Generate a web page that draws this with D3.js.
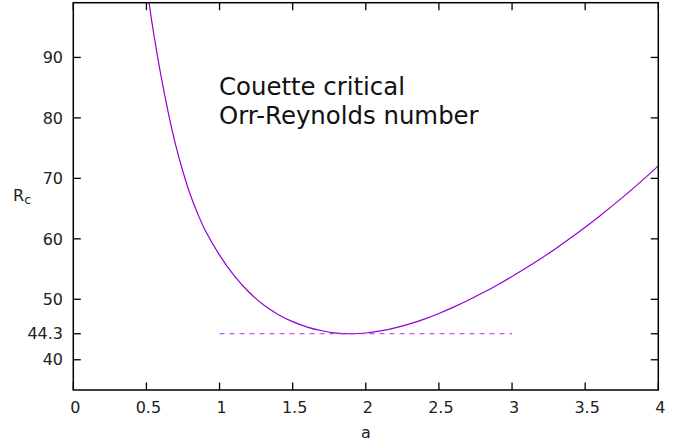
<!DOCTYPE html>
<html lang="en">
<head>
    <meta charset="UTF-8">
    <title>Couette critical Orr-Reynolds number</title>
    <style>
        body { margin: 0; background: #fff; }
        svg { display: block; font-family: "DejaVu Sans", sans-serif; }
        .frame { fill: none; stroke: #000; stroke-width: 1.5px; }
        .tick-line { stroke: #000; stroke-width: 1.3px; }
        .tick-label { font-size: 16px; fill: #222; }
        .curve { fill: none; stroke: #9400d3; stroke-width: 1.2px; }
        .minline { stroke: #b030e8; stroke-width: 1.2px; stroke-dasharray: 5 5; }
    </style>
</head>
<body>
<svg id="chart" width="690" height="447"></svg>
<script src="https://d3js.org/d3.v7.min.js"></script>
<script>
// wave number a and critical Reynolds number
const aValues = [0.50, 0.52, 0.55, 0.60, 0.65, 0.70, 0.75, 0.80, 0.85, 0.90,
    1.0, 1.1, 1.2, 1.3, 1.4, 1.5, 1.6, 1.7, 1.8, 1.9,
    2.0, 2.1, 2.2, 2.3, 2.4, 2.5, 2.6, 2.7, 2.8, 2.9,
    3.0, 3.1, 3.2, 3.3, 3.4, 3.5, 3.6, 3.7, 3.8, 3.9, 4.0];
const rValues = [102.4, 98.7, 93.9, 86.9, 80.8, 75.5, 71.1, 67.3, 64.2, 61.5,
    57.3, 53.9, 51.2, 49.1, 47.5, 46.3, 45.4, 44.8, 44.42, 44.3,
    44.43, 44.77, 45.27, 45.93, 46.73, 47.66, 48.70, 49.84, 51.07, 52.38,
    53.77, 55.24, 56.79, 58.42, 60.13, 61.92, 63.79, 65.74, 67.77, 69.88, 72.07];

const minValue = 44.3;
const minRange = [1, 3];

const xTicks = [0, 0.5, 1, 1.5, 2, 2.5, 3, 3.5, 4];
const yTicks = [40, 44.3, 50, 60, 70, 80, 90];

const titleLines = ['Couette critical', 'Orr-Reynolds number'];

const svg = d3.select('#chart');
const plotLeft = 73.3, plotRight = 658.3, plotTop = 2.7, plotBottom = 390;

const x = d3.scaleLinear().domain([0, 4]).range([plotLeft, plotRight]);
const y = d3.scaleLinear().domain([35, 99.05]).range([plotBottom, plotTop]);

svg.append('clipPath').attr('id', 'clip')
    .append('rect')
    .attr('x', plotLeft).attr('y', plotTop)
    .attr('width', plotRight - plotLeft).attr('height', plotBottom - plotTop);

const points = aValues.map((a, i) => ({a: a, r: rValues[i]}));

const line = d3.line()
    .x(d => x(d.a))
    .y(d => y(d.r))
    .curve(d3.curveCatmullRom);

svg.append('path')
    .datum(points)
    .attr('class', 'curve')
    .attr('clip-path', 'url(#clip)')
    .attr('d', line);

svg.append('line')
    .attr('class', 'minline')
    .attr('x1', x(minRange[0])).attr('x2', x(minRange[1]))
    .attr('y1', y(minValue)).attr('y2', y(minValue));

// ticks, drawn inward on all four sides
const tickLen = 7.5;
const g = svg.append('g');

xTicks.forEach(t => {
    g.append('line').attr('class', 'tick-line')
        .attr('x1', x(t)).attr('x2', x(t))
        .attr('y1', plotBottom).attr('y2', plotBottom - tickLen);
    g.append('line').attr('class', 'tick-line')
        .attr('x1', x(t)).attr('x2', x(t))
        .attr('y1', plotTop).attr('y2', plotTop + tickLen);
    g.append('text').attr('class', 'tick-label')
        .attr('x', x(t) + 2).attr('y', 413)
        .attr('text-anchor', 'middle')
        .text(t);
});

yTicks.forEach(t => {
    g.append('line').attr('class', 'tick-line')
        .attr('x1', plotLeft).attr('x2', plotLeft + tickLen)
        .attr('y1', y(t)).attr('y2', y(t));
    g.append('line').attr('class', 'tick-line')
        .attr('x1', plotRight).attr('x2', plotRight - tickLen)
        .attr('y1', y(t)).attr('y2', y(t));
    g.append('text').attr('class', 'tick-label')
        .attr('x', 63).attr('y', y(t) + 5.7)
        .attr('text-anchor', 'end')
        .text(t);
});

svg.append('rect').attr('class', 'frame')
    .attr('x', plotLeft).attr('y', plotTop)
    .attr('width', plotRight - plotLeft).attr('height', plotBottom - plotTop);

// axis labels
svg.append('text').attr('class', 'tick-label')
    .attr('x', 366).attr('y', 438)
    .attr('text-anchor', 'middle')
    .text('a');

const rc = svg.append('text').attr('class', 'tick-label')
    .attr('x', 13).attr('y', 201);
rc.append('tspan').text('R');
rc.append('tspan').attr('dy', 3).style('font-size', '12.5px').text('c');

// annotation
svg.append('g').selectAll('text')
    .data(titleLines)
    .enter().append('text')
    .attr('x', 219)
    .attr('y', (d, i) => 95 + i * 28.5)
    .style('font-size', '24.4px')
    .attr('fill', '#111')
    .text(d => d);
</script>
</body>
</html>
